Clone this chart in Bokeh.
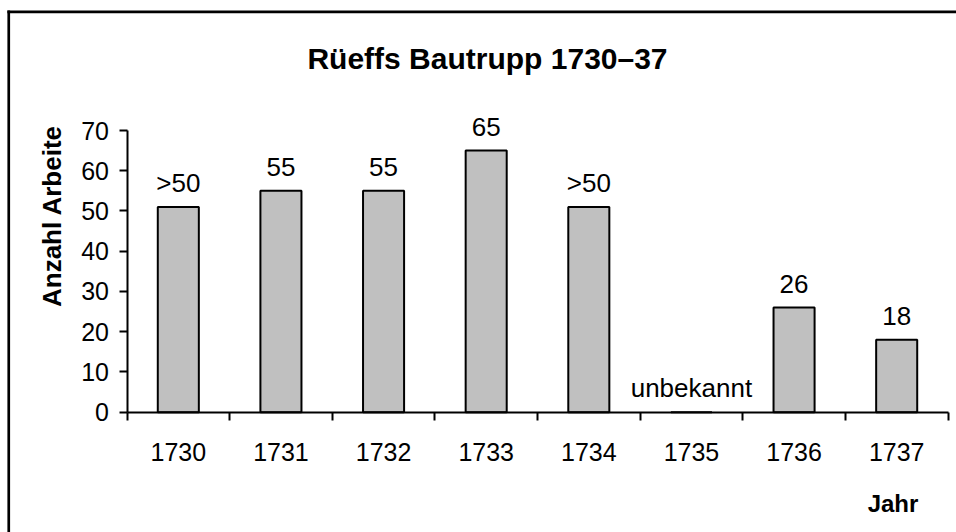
import math
from bokeh.plotting import figure
from bokeh.models import (Range1d, FixedTicker, LabelSet, Label, ColumnDataSource,
                          BoxAnnotation)
from bokeh.core.properties import value
from bokeh.embed import file_html
from bokeh.resources import INLINE

# ---- data ----
years = ["1730", "1731", "1732", "1733", "1734", "1735", "1736", "1737"]
workers = [51, 55, 55, 65, 51, 0, 26, 18]
value_labels = [">50", "55", "55", "65", ">50", "unbekannt", "26", "18"]
y_ticks = [0, 10, 20, 30, 40, 50, 60, 70]
title_text = "Rüeffs Bautrupp 1730–37"
y_label_text = "Anzahl Arbeite"
x_label_text = "Jahr"

FONT = "Liberation Sans"
n = len(years)
xs = [i + 0.5 for i in range(n)]
boundaries = list(range(n + 1))

# ---- layout (pixels on the canvas) ----
W, H = 956, 532
X_LEFT_PX, X_RIGHT_PX = 126.5, 947.5      # where the category axis starts / ends
Y_ZERO_PX, Y_TOP_PX = 411.7, 130.0        # where the value axis starts / ends
ppx = (X_RIGHT_PX - X_LEFT_PX) / n
ppy = (Y_ZERO_PX - Y_TOP_PX) / y_ticks[-1]

src = ColumnDataSource(dict(x=xs, top=workers, lab=value_labels, year=years))

p = figure(width=W, height=H,
           x_range=Range1d(-X_LEFT_PX / ppx, n + (W - X_RIGHT_PX) / ppx),
           y_range=Range1d(-(H - Y_ZERO_PX) / ppy, y_ticks[-1] + Y_TOP_PX / ppy),
           output_backend="svg", toolbar_location=None,
           min_border_left=0, min_border_right=0, min_border_top=0, min_border_bottom=0)
p.outline_line_color = None
p.grid.visible = False
p.background_fill_color = "white"
p.border_fill_color = "white"

p.vbar(x="x", top="top", width=0.4, bottom=0, source=src,
       fill_color="#C0C0C0", line_color="black", line_width=2)

labels = LabelSet(x="x", y="top", text="lab", source=src, y_offset=15,
                  text_align="center", text_baseline="alphabetic",
                  text_font=value(FONT), text_font_size="26px", text_color="black")
p.add_layout(labels)

# x axis: labels at centers, tick marks at category boundaries
xa = p.xaxis[0]
xa.fixed_location = 0
xa.bounds = (0, n)
xa.ticker = FixedTicker(ticks=xs, minor_ticks=boundaries)
xa.major_label_overrides = {x: y for x, y in zip(xs, years)}
xa.major_tick_line_color = None
xa.major_tick_out = 0
xa.major_tick_in = 0
xa.minor_tick_out = 8
xa.minor_tick_in = 0
xa.minor_tick_line_color = "black"
xa.minor_tick_line_width = 2
xa.axis_line_width = 2
xa.axis_line_color = "black"
xa.major_label_standoff = 23
xa.major_label_text_font = FONT
xa.major_label_text_font_size = "25px"
xa.major_label_text_color = "black"

ya = p.yaxis[0]
ya.fixed_location = 0
ya.bounds = (0, y_ticks[-1])
ya.ticker = FixedTicker(ticks=y_ticks, minor_ticks=[])
ya.major_tick_out = 8
ya.major_tick_in = 0
ya.major_tick_line_width = 2
ya.major_tick_line_color = "black"
ya.minor_tick_line_color = None
ya.axis_line_width = 2
ya.axis_line_color = "black"
ya.major_label_standoff = 10
ya.major_label_text_font = FONT
ya.major_label_text_font_size = "25px"
ya.major_label_text_color = "black"

# title and axis titles (screen units, measured from the frame's lower-left corner)
p.add_layout(Label(x=487, y=H - 58, x_units="screen", y_units="screen", text=title_text,
                   text_align="center", text_baseline="alphabetic", text_font=FONT,
                   text_font_size="30px", text_font_style="bold", text_color="black"))
p.add_layout(Label(x=51, y=H - 215.5, x_units="screen", y_units="screen", text=y_label_text,
                   angle=math.pi / 2, text_align="center", text_baseline="middle",
                   text_font=FONT, text_font_size="26px", text_font_style="bold",
                   text_color="black"))
p.add_layout(Label(x=892.5, y=H - 503, x_units="screen", y_units="screen", text=x_label_text,
                   text_align="center", text_baseline="alphabetic", text_font=FONT,
                   text_font_size="24px", text_font_style="bold", text_color="black"))

# chart-area border: only its top and left edges fall inside the picture
p.add_layout(BoxAnnotation(left=6.9, right=9.6, top=H - 10.0, bottom=0,
                           left_units="screen", right_units="screen",
                           top_units="screen", bottom_units="screen",
                           fill_color="black", fill_alpha=1.0, line_color=None,
                           level="overlay"))
p.add_layout(BoxAnnotation(left=6.9, right=W, top=H - 10.0, bottom=H - 12.7,
                           left_units="screen", right_units="screen",
                           top_units="screen", bottom_units="screen",
                           fill_color="black", fill_alpha=1.0, line_color=None,
                           level="overlay"))

open("out.html", "w").write(file_html(p, INLINE))
